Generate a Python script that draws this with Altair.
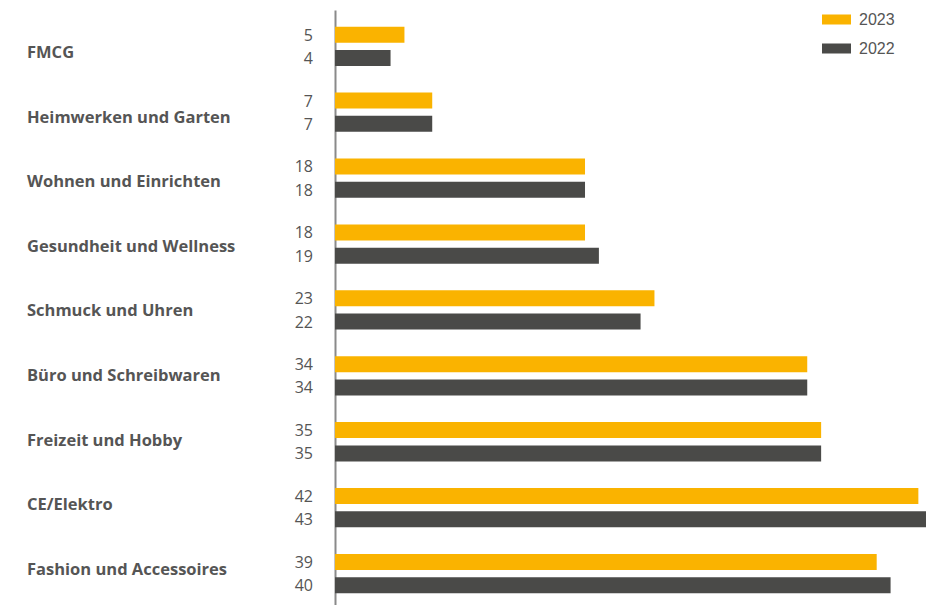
import altair as alt
import pandas as pd

categories = ["FMCG", "Heimwerken und Garten", "Wohnen und Einrichten",
              "Gesundheit und Wellness", "Schmuck und Uhren", "Büro und Schreibwaren",
              "Freizeit und Hobby", "CE/Elektro", "Fashion und Accessoires"]
years = ["2023", "2022"]
values_2023 = [5, 7, 18, 18, 23, 34, 35, 42, 39]
values_2022 = [4, 7, 18, 19, 22, 34, 35, 43, 40]
colors = ["#FAB300", "#4A4A48"]

rows = []
for c, a, b in zip(categories, values_2023, values_2022):
    rows.append({"Kategorie": c, "Jahr": "2023", "Wert": a})
    rows.append({"Kategorie": c, "Jahr": "2022", "Wert": b})
df = pd.DataFrame(rows)
cat_df = pd.DataFrame({"Label": categories})

band_scale = alt.Scale(paddingInner=0.404, paddingOuter=0.216, align=0.586)
x_scale = alt.Scale(domain=[0, 42.55], clamp=True, nice=False)
off_scale = alt.Scale(paddingInner=0.313, paddingOuter=0)

y_enc = alt.Y("Kategorie:N", sort=categories, scale=band_scale,
              axis=alt.Axis(title=None, labels=False, ticks=False,
                            domainColor="#8a8a8a", domainWidth=2, grid=False))
yoff_enc = alt.YOffset("Jahr:N", sort=years, scale=off_scale)

legend = alt.Legend(orient="none", legendX=487, legendY=-5, title=None,
                    symbolType="M-1,-0.345L1,-0.345L1,0.345L-1,0.345Z", symbolSize=841,
                    symbolStrokeWidth=0, labelFont="Liberation Sans", labelFontSize=16,
                    labelColor="#555555", labelOffset=8, rowPadding=6, padding=0)

bars = alt.Chart(df).mark_bar(orient="horizontal").encode(
    x=alt.X("Wert:Q", scale=x_scale, axis=None),
    y=y_enc,
    yOffset=yoff_enc,
    color=alt.Color("Jahr:N", sort=years,
                    scale=alt.Scale(domain=years, range=colors), legend=legend),
)

values = alt.Chart(df).mark_text(align="right", baseline="middle", dx=-22, dy=1,
                                 font="Open Sans", fontSize=16, color="#555555").encode(
    x=alt.datum(0),
    y=y_enc,
    yOffset=yoff_enc,
    text=alt.Text("Wert:Q"),
)

cat_labels = alt.Chart(cat_df).mark_text(align="left", baseline="middle", dx=-308, dy=1,
                                         font="Open Sans", fontWeight="bold", fontSize=16.5,
                                         color="#555555").encode(
    x=alt.datum(0),
    y=alt.Y("Label:N", sort=categories,
            scale=alt.Scale(type="point", padding=0.605, align=0.537), axis=None),
    text="Label:N",
)

chart = alt.layer(alt.layer(bars, values), cat_labels).resolve_scale(
    y="independent"
).properties(
    width=591, height=595,
    autosize=alt.AutoSizeParams(type="none"),
    padding={"left": 335, "top": 10, "right": 0, "bottom": 0},
).configure_view(stroke=None)

chart.save("out.html", embed_options={"renderer": "svg", "actions": False})
